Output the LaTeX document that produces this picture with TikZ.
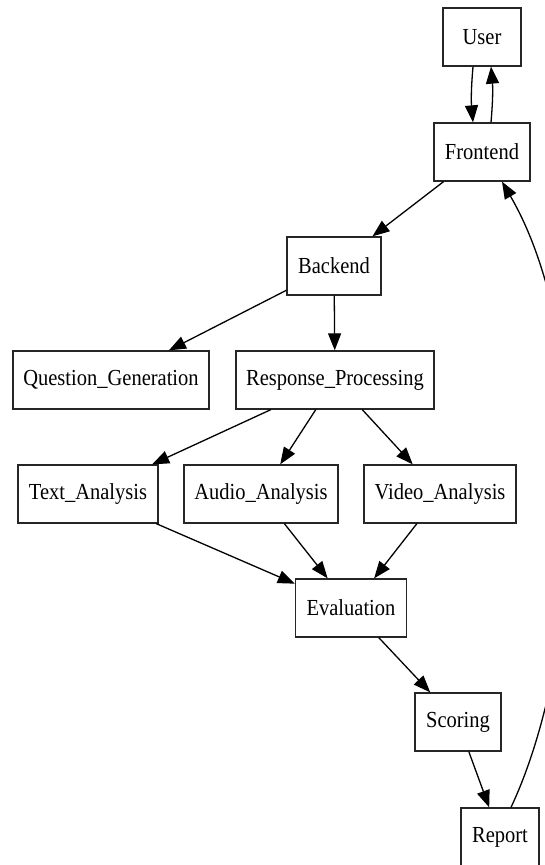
\documentclass[tikz,border=0pt]{standalone}
\usepackage{fontspec}
\usepackage{graphicx}
\setmainfont{Liberation Serif}
\usetikzlibrary{arrows.meta}
\newcommand{\boxtext}[1]{\scalebox{1}[1.12]{#1}}
\begin{document}
\begin{tikzpicture}[x=1pt,y=-1pt,
  box/.style={draw=black!85, line width=1.3pt, minimum height=58pt, inner sep=0pt,
    font=\fontsize{20.5}{24}\selectfont},
  link/.style={line width=1.3pt, -{Triangle[length=17pt,width=13pt]}}]
\useasboundingbox (0,0) rectangle (545,865);
\clip (0,0) rectangle (545,865);
\fill[white] (0,0) rectangle (545,865);
\node[box, minimum width=78pt] (User) at (482,37) {\boxtext{User}};
\node[box, minimum width=96pt] (Frontend) at (482,152) {\boxtext{Frontend}};
\node[box, minimum width=94pt] (Backend) at (334,266) {\boxtext{Backend}};
\node[box, minimum width=196pt] (QG) at (111,380) {\boxtext{Question\_Generation}};
\node[box, minimum width=198pt] (RP) at (335,380) {\boxtext{Response\_Processing}};
\node[box, minimum width=140pt] (TA) at (88,494) {\boxtext{Text\_Analysis}};
\node[box, minimum width=154pt] (AA) at (261,494) {\boxtext{Audio\_Analysis}};
\node[box, minimum width=152pt] (VA) at (440,494) {\boxtext{Video\_Analysis}};
\node[box, minimum width=111pt] (Ev) at (351,608) {\boxtext{Evaluation}};
\node[box, minimum width=86pt] (Sc) at (458,722) {\boxtext{Scoring}};
\node[box, minimum width=78pt] (Re) at (500,837) {\boxtext{Report}};

\draw[link] ([xshift=-9pt]User.south) to[bend right=5] ([xshift=-9pt]Frontend.north);
\draw[link] ([xshift=9pt]Frontend.north) to[bend right=5] ([xshift=9pt]User.south);
\draw[link] (Frontend) -- (Backend);
\draw[link] (Backend) -- (QG);
\draw[link] (Backend) -- (RP);
\draw[link] (RP) -- (TA);
\draw[link] (RP) -- (AA);
\draw[link] (RP) -- (VA);
\draw[link] (TA) -- (Ev);
\draw[link] (AA) -- (Ev);
\draw[link] (VA) -- (Ev);
\draw[link] (Ev) -- (Sc);
\draw[link] (Sc) -- (Re);
\draw[link] ([xshift=11pt]Re.north) .. controls (585,650) and (597,345) .. ([xshift=20pt]Frontend.south);
\end{tikzpicture}
\end{document}
